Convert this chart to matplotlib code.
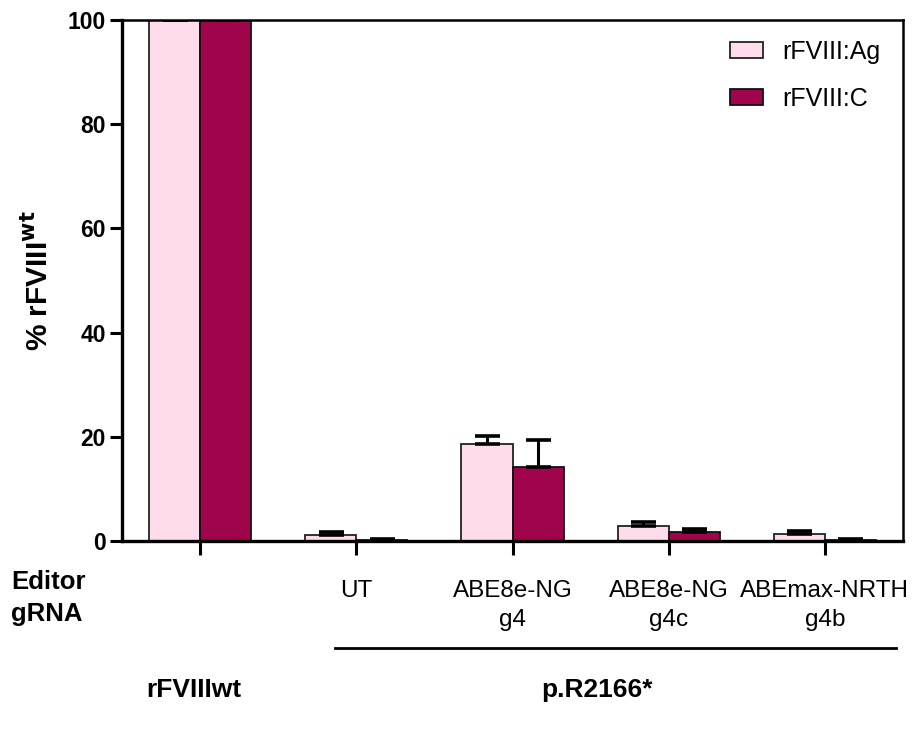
import matplotlib
matplotlib.use("Agg")
import matplotlib.pyplot as plt
import matplotlib.transforms as mtransforms
from matplotlib.lines import Line2D
import numpy as np

plt.rcParams['font.family'] = ['Liberation Sans', 'DejaVu Sans']

# ---- data ----
tick_labels = ['', 'UT', 'ABE8e-NG\ng4', 'ABE8e-NG\ng4c', 'ABEmax-NRTH\ng4b']
ag_vals = [100, 1.1, 18.7, 2.8, 1.4]
ag_err = [0, 0.6, 1.5, 0.8, 0.5]
c_vals = [100, 0.1, 14.2, 1.8, 0.1]
c_err = [0, 0.3, 5.1, 0.5, 0.25]
series_names = ['rFVIII:Ag', 'rFVIII:C']
yticks = [0, 20, 40, 60, 80, 100]
group_names = ['rFVIIIwt', 'p.R2166*']
row_names = ['Editor', 'gRNA']

pink = '#FEDCEC'
dark = '#A0044A'

W, H = 915, 737
fig = plt.figure(figsize=(W / 100, H / 100), dpi=100)
ax = fig.add_axes([122 / W, 1 - 541 / H, (903 - 122) / W, (541 - 20) / H])

x = np.arange(len(tick_labels))
bw = 0.327
ax.bar(x - bw / 2, ag_vals, bw, color=pink, edgecolor='#222222', linewidth=1.3,
       label=series_names[0], zorder=2)
ax.bar(x + bw / 2, c_vals, bw, color=dark, edgecolor='#111111', linewidth=1.3,
       label=series_names[1], zorder=2)
ax.errorbar(x - bw / 2, ag_vals, yerr=[np.zeros(len(ag_err)), ag_err], fmt='none',
            ecolor='black', elinewidth=2.2, capsize=9, capthick=2.6, zorder=3)
ax.errorbar(x + bw / 2, c_vals, yerr=[np.zeros(len(c_err)), c_err], fmt='none',
            ecolor='black', elinewidth=2.2, capsize=9, capthick=2.6, zorder=3)

ax.set_xlim(-0.5, 4.5)
ax.set_ylim(0, 100)
ax.set_yticks(yticks)
ax.set_yticklabels([str(v) for v in yticks], fontsize=16.5, fontweight='bold')
ax.set_xticks(x)
ax.set_xticklabels(tick_labels, fontsize=17.5, linespacing=1.4)
ax.tick_params(axis='y', length=8.5, width=2.2, pad=3)
ax.tick_params(axis='x', length=10, width=2.2, pad=18)

for s in ['left', 'bottom']:
    ax.spines[s].set_linewidth(2.4)
for s in ['top', 'right']:
    ax.spines[s].set_linewidth(1.8)

ax.set_ylabel('% rFVIII$^{\\mathbf{wt}}$', fontsize=21.5, fontweight='bold', labelpad=10)

leg = ax.legend(loc='upper left', bbox_to_anchor=(0.778, 0.962), frameon=False,
                fontsize=18, handlelength=1.32, handleheight=0.6, handletextpad=0.8,
                labelspacing=0.92, borderpad=0, borderaxespad=0)

# row labels on the left
fig.text(11 / W, 1 - 582 / H, row_names[0], fontsize=18.5, fontweight='bold', va='center', ha='left')
fig.text(11 / W, 1 - 614 / H, row_names[1], fontsize=18.5, fontweight='bold', va='center', ha='left')

# group labels and bracket line
trans = mtransforms.blended_transform_factory(ax.transData, fig.transFigure)
fig.text(-0.04, 1 - 690 / H, group_names[0], transform=trans, fontsize=19, fontweight='bold',
         ha='center', va='center')
fig.text(2.54, 1 - 690 / H, group_names[1], transform=trans, fontsize=19, fontweight='bold',
         ha='center', va='center')
line = Line2D([0.865, 4.455], [1 - 648 / H, 1 - 648 / H], transform=trans, color='black',
              linewidth=2.0, clip_on=False)
fig.add_artist(line)

fig.savefig('out.png', dpi=100)
